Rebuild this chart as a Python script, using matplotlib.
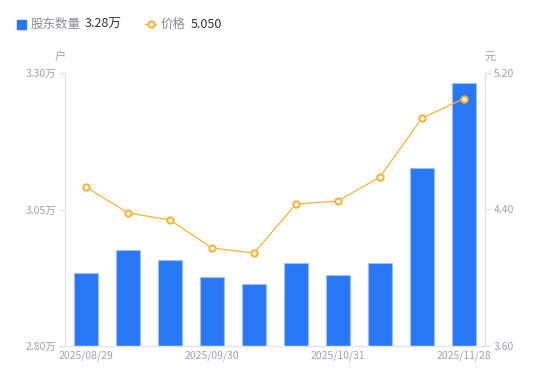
import matplotlib
matplotlib.use("Agg")
import matplotlib.pyplot as plt
from matplotlib.lines import Line2D

plt.rcParams['font.family'] = ['Noto Sans CJK SC', 'DejaVu Sans']

dates = ["2025/08/29", "2025/09/10", "2025/09/19", "2025/09/30", "2025/10/10",
         "2025/10/20", "2025/10/31", "2025/11/10", "2025/11/20", "2025/11/28"]
holders = [2.934, 2.976, 2.957, 2.926, 2.914, 2.952, 2.930, 2.952, 3.126, 3.282]  # 万户
prices = [4.532, 4.380, 4.339, 4.174, 4.145, 4.432, 4.450, 4.591, 4.936, 5.050]
left_ticks = [2.80, 3.05, 3.30]
right_ticks = [3.60, 4.40, 5.20]
shown_labels = [0, 3, 6, 9]

W, H = 550, 381
fig = plt.figure(figsize=(W / 100, H / 100), dpi=100)
ax = fig.add_axes([65 / W, (H - 346) / H, (485 - 65) / W, (346 - 73) / H])

bar_color = '#2878F5'
line_color = '#F7B339'
grid_gray = '#E3E3E8'
text_gray = '#A0A0B0'

x = list(range(len(dates)))
ax.bar(x, [h - left_ticks[0] for h in holders], bottom=left_ticks[0], width=0.58,
       color=bar_color, edgecolor='#9CC0FA', linewidth=0.8, zorder=2)
ax.set_xlim(-0.5, len(dates) - 0.5)
ax.set_ylim(left_ticks[0], left_ticks[-1])
ax.set_yticks(left_ticks)
ax.set_yticklabels([f"{v:.2f}万" for v in left_ticks])
ax.set_xticks([x[i] for i in shown_labels])
ax.set_xticklabels([dates[i] for i in shown_labels])

ax2 = ax.twinx()
ax2.plot(x, prices, color=line_color, linewidth=0.9, marker='o', markersize=4.5,
         markerfacecolor='white', markeredgecolor=line_color, markeredgewidth=1.5, zorder=3)
ax2.set_ylim(right_ticks[0], right_ticks[-1])
ax2.set_yticks(right_ticks)
ax2.set_yticklabels([f"{v:.2f}" for v in right_ticks])

for a in (ax, ax2):
    for s in a.spines.values():
        s.set_visible(False)
ax.spines['left'].set_visible(True)
ax.spines['bottom'].set_visible(True)
ax2.spines['right'].set_visible(True)
for s in (ax.spines['left'], ax.spines['bottom'], ax2.spines['right']):
    s.set_color(grid_gray)
    s.set_linewidth(1)

ax.tick_params(axis='y', colors=grid_gray, labelcolor=text_gray, labelsize=7.5, length=4, width=1, pad=2)
ax.tick_params(axis='x', length=0, labelcolor=text_gray, labelsize=7.5, pad=3)
ax2.tick_params(axis='y', colors=grid_gray, labelcolor=text_gray, labelsize=7.5, length=4, width=1, pad=2)

fig.text(60 / W, 1 - 57 / H, "户", color=text_gray, fontsize=8, ha='center', va='center')
fig.text(490 / W, 1 - 57 / H, "元", color=text_gray, fontsize=8, ha='center', va='center')

# Legend
fig.patches.append(plt.Rectangle((17 / W, 1 - 29 / H), 9 / W, 9 / H, transform=fig.transFigure,
                                 color=bar_color, figure=fig))
fig.text(31 / W, 1 - 24 / H, "股东数量", color='#8A8A9A', fontsize=9, va='center')
fig.text(85 / W, 1 - 24 / H, f"{holders[-1]:.2f}万", color='#333333', fontsize=9, va='center')
fig.lines.append(Line2D([145 / W, 156 / W], [1 - 24 / H, 1 - 24 / H], transform=fig.transFigure,
                        color=line_color, linewidth=1, figure=fig))
fig.lines.append(Line2D([150.5 / W], [1 - 24 / H], transform=fig.transFigure, marker='o',
                        markersize=4.5, markerfacecolor='white', markeredgecolor=line_color,
                        markeredgewidth=1.5, figure=fig))
fig.text(161 / W, 1 - 24 / H, "价格", color='#8A8A9A', fontsize=9, va='center')
fig.text(191 / W, 1 - 24 / H, f"{prices[-1]:.3f}", color='#333333', fontsize=9, va='center')

fig.savefig("out.png", dpi=100)
